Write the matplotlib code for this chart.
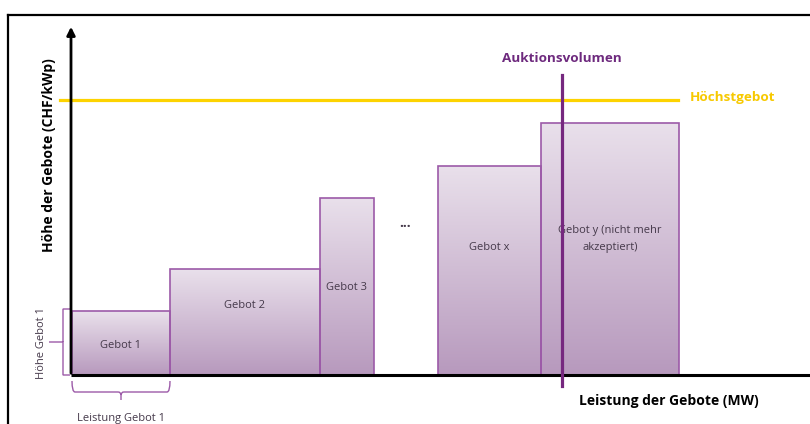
import numpy as np
import matplotlib.pyplot as plt
from matplotlib.path import Path
from matplotlib.patches import PathPatch, Rectangle
from matplotlib.lines import Line2D

plt.rcParams['font.family'] = ['Open Sans', 'DejaVu Sans']

# bids (abstract units: capacity on x, price on y)
labels = ["Gebot 1", "Gebot 2", "Gebot 3", "Gebot x", "Gebot y (nicht mehr\nakzeptiert)"]
starts = [1, 99, 249, 367, 470]
widths = [98, 150, 54, 103, 138]
heights = [64, 106, 177, 209, 252]
hoechstgebot = 275
auktionsvolumen = 491

W, H = 810, 424
fig = plt.figure(figsize=(W / 100, H / 100), dpi=100)
fig.patch.set_facecolor('white')

# plot area: origin at pixel (71, 375)
x0, y0, x1, y1 = 71, 375, 810, 24
ax = fig.add_axes([x0 / W, (H - y0) / H, (x1 - x0) / W, (y0 - y1) / H])
ax.set_xlim(0, x1 - x0)
ax.set_ylim(0, y0 - y1)
ax.set_axis_off()

# outer frame
fig.add_artist(Line2D([8 / W, 1], [1 - 15 / H, 1 - 15 / H], color='black', lw=1.6))
fig.add_artist(Line2D([8 / W, 8 / W], [0, 1 - 15 / H], color='black', lw=1.6))

# gradient bars
grad = np.linspace(0, 1, 256).reshape(-1, 1)
cmap = plt.matplotlib.colors.LinearSegmentedColormap.from_list('g', ['#b799bd', '#e9e0eb'])
edge = '#9c5aa8'
for lab, s, w, h in zip(labels, starts, widths, heights):
    ax.imshow(grad, extent=(s, s + w, 0, h), origin='lower', cmap=cmap, aspect='auto', zorder=2)
    ax.add_patch(Rectangle((s, 0), w, h, fill=False, ec=edge, lw=1.2, zorder=3))

txtc = '#45394a'
ax.text(starts[0] + widths[0] / 2, 30, labels[0], ha='center', va='center', fontsize=8, color=txtc, zorder=5)
ax.text(starts[1] + widths[1] / 2, 70, labels[1], ha='center', va='center', fontsize=8, color=txtc, zorder=5)
ax.text(starts[2] + widths[2] / 2, 87, labels[2], ha='center', va='center', fontsize=8, color=txtc, zorder=5)
ax.text(334, 152, "...", ha='center', va='center', fontsize=10, fontweight='bold', color=txtc, zorder=5)
ax.text(starts[3] + widths[3] / 2, 127, labels[3], ha='center', va='center', fontsize=8, color=txtc, zorder=5)
ax.text(starts[4] + widths[4] / 2, 136, labels[4], ha='center', va='center', fontsize=8, color=txtc,
        linespacing=1.85, zorder=5)

# axes
ax.plot([0, x1 - x0], [0, 0], color='black', lw=2.2, clip_on=False, zorder=6, solid_capstyle='butt')
ax.annotate('', xy=(0, y0 - y1), xytext=(0, -1),
            arrowprops=dict(arrowstyle='-|>', color='black', lw=2.0, mutation_scale=12),
            annotation_clip=False, zorder=6)

# Höchstgebot
ax.plot([-11, 607], [hoechstgebot, hoechstgebot], color='#fdd300', lw=2.3, clip_on=False, zorder=4)
ax.text(619, hoechstgebot + 2, "Höchstgebot", ha='left', va='center', fontsize=9.7,
        fontweight='bold', color='#f7c900')

# Auktionsvolumen
ax.plot([auktionsvolumen, auktionsvolumen], [-11, 300], color='#76287f', lw=2.3, clip_on=False, zorder=7)
ax.text(auktionsvolumen, 317, "Auktionsvolumen", ha='center', va='center', fontsize=9.7,
        fontweight='bold', color='#6e2a7e')

# axis labels
ax.text(598, -26, "Leistung der Gebote (MW)", ha='center', va='center', fontsize=10,
        fontweight='bold', color='black')
ax.text(-22, 220, "Höhe der Gebote (CHF/kWp)", ha='center', va='center', fontsize=10,
        fontweight='bold', color='black', rotation=90)

# braces
bc = '#9c5aa8'
def brace_v(x, ya, yb, tip):
    ym = (ya + yb) / 2
    verts = [(x, ya), (x - 7, ya), (x - 7, ya), (x - 7, ym - 4),
             (x - 7, ym), (x - 7, ym), (tip, ym),
             (x - 7, ym), (x - 7, ym), (x - 7, ym + 4),
             (x - 7, yb), (x - 7, yb), (x, yb)]
    codes = [Path.MOVETO, Path.CURVE3, Path.CURVE3, Path.LINETO,
             Path.CURVE3, Path.CURVE3, Path.LINETO,
             Path.MOVETO, Path.CURVE3, Path.CURVE3,
             Path.LINETO, Path.CURVE3, Path.CURVE3]
    ax.add_patch(PathPatch(Path(verts, codes), fill=False, ec=bc, lw=1.0, clip_on=False))

def brace_h(y, xa, xb, tip):
    xm = (xa + xb) / 2
    verts = [(xa, y), (xa, y - 11), (xa + 3, y - 11), (xm - 3, y - 11),
             (xm, y - 11), (xm, y - 14), (xm, tip),
             (xm, y - 14), (xm, y - 11), (xm + 3, y - 11),
             (xb - 3, y - 11), (xb, y - 11), (xb, y)]
    codes = [Path.MOVETO, Path.CURVE3, Path.CURVE3, Path.LINETO,
             Path.CURVE3, Path.CURVE3, Path.LINETO,
             Path.MOVETO, Path.CURVE3, Path.CURVE3,
             Path.LINETO, Path.CURVE3, Path.CURVE3]
    ax.add_patch(PathPatch(Path(verts, codes), fill=False, ec=bc, lw=1.0, clip_on=False))

brace_v(-1, 0, heights[0] + 2, -22)
brace_h(-6, 1, starts[0] + widths[0], -25)

ax.text(-29, 32, "Höhe Gebot 1", ha='center', va='center', fontsize=8, color=txtc, rotation=90)
ax.text(starts[0] + widths[0] / 2, -44, "Leistung Gebot 1", ha='center', va='center', fontsize=8, color=txtc)

fig.savefig('out.png', dpi=100)
